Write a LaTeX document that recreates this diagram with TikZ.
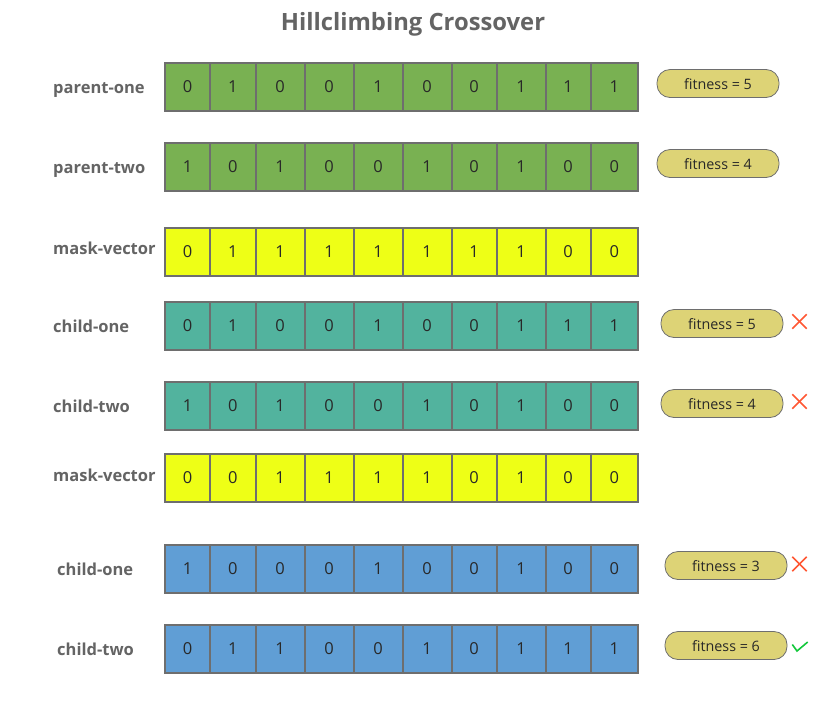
\documentclass[tikz,border=0pt]{standalone}
\usepackage{fontspec}
\setmainfont{Open Sans}
\definecolor{cgreen}{RGB}{121,177,82}
\definecolor{cyellow}{RGB}{238,255,22}
\definecolor{cteal}{RGB}{82,179,158}
\definecolor{cblue}{RGB}{96,158,213}
\definecolor{cpill}{RGB}{221,211,118}
\definecolor{cborder}{RGB}{110,110,110}
\definecolor{ctext}{RGB}{100,100,100}
\definecolor{cdigit}{RGB}{40,40,40}
\definecolor{cred}{RGB}{255,87,51}
\definecolor{ccheck}{RGB}{20,200,60}
\tikzset{
  cellbox/.style={draw=cborder, line width=2pt, minimum height=48pt, inner sep=0pt,
    text=cdigit, font=\fontsize{16.5}{19}\selectfont},
  rowlabel/.style={anchor=base west, text=ctext, font=\fontsize{16.5}{19}\selectfont\bfseries, inner sep=0pt},
  pill/.style={draw=cborder, line width=0.8pt, fill=cpill, rounded corners=13pt,
    minimum width=122pt, minimum height=28pt, inner sep=0pt, text=cdigit,
    font=\fontsize{14.3}{17}\selectfont, text depth=0pt, text height=12pt},
  markbox/.style={minimum size=15pt, inner sep=0pt},
  crossline/.style={draw=cred, line width=1.6pt},
}
\def\xs{{165,210,255.5,304.5,353.5,402.5,451.5,496.5,545.5,590.5,638}}
\newcommand\cellrow[4]{%
  \foreach \v [count=\i from 0] in {#4} {
    \pgfmathsetmacro\xa{\xs[\i]}
    \pgfmathsetmacro\xb{\xs[\i+1]}
    \pgfmathsetmacro\xc{(\xa+\xb)/2}
    \pgfmathsetmacro\w{\xb-\xa}
    \node[cellbox, fill=#3, minimum width=\w pt] (#1c\i) at (\xc,-#2) {\v};
  }
}
\begin{document}
\begin{tikzpicture}[x=1pt,y=1pt]
\useasboundingbox (0,0) rectangle (827,-705);
\fill[white] (0,0) rectangle (827,-705);
\node[text=ctext, font=\fontsize{23.8}{28}\selectfont\bfseries] (title) at (413,-24) {Hillclimbing Crossover};

\cellrow{pa}{86.5}{cgreen}{0,1,0,0,1,0,0,1,1,1}
\cellrow{pb}{166.5}{cgreen}{1,0,1,0,0,1,0,1,0,0}
\cellrow{ma}{252}{cyellow}{0,1,1,1,1,1,1,1,0,0}
\cellrow{ca}{325.5}{cteal}{0,1,0,0,1,0,0,1,1,1}
\cellrow{cb}{405.5}{cteal}{1,0,1,0,0,1,0,1,0,0}
\cellrow{mb}{477.5}{cyellow}{0,0,1,1,1,1,0,1,0,0}
\cellrow{da}{568.5}{cblue}{1,0,0,0,1,0,0,1,0,0}
\cellrow{db}{648.5}{cblue}{0,1,1,0,0,1,0,1,1,1}

\node[rowlabel] (lpa) at (53,-93) {parent-one};
\node[rowlabel] (lpb) at (53,-173) {parent-two};
\node[rowlabel] (lma) at (53,-254) {mask-vector};
\node[rowlabel] (lca) at (53,-332) {child-one};
\node[rowlabel] (lcb) at (53,-412) {child-two};
\node[rowlabel] (lmb) at (53,-481) {mask-vector};
\node[rowlabel] (lda) at (57,-575) {child-one};
\node[rowlabel] (ldb) at (57,-655) {child-two};

\node[pill] (fpa) at (718,-83.5) {fitness = 5};
\node[pill] (fpb) at (718,-163.5) {fitness = 4};
\node[pill] (fca) at (722,-323.5) {fitness = 5};
\node[pill] (fcb) at (722,-403.5) {fitness = 4};
\node[pill] (fda) at (726,-565.5) {fitness = 3};
\node[pill] (fdb) at (726,-645.5) {fitness = 6};

\node[markbox] (xca) at (799.5,-321.5) {};
\node[markbox] (xcb) at (799.5,-401.5) {};
\node[markbox] (xda) at (799.5,-564) {};
\node[markbox] (vdb) at (800,-646.5) {};
\foreach \m in {xca,xcb,xda} {
  \draw[crossline] ([xshift=0.5pt,yshift=-0.5pt]\m.north west) -- ([xshift=-0.5pt,yshift=0.5pt]\m.south east);
  \draw[crossline] ([xshift=-0.5pt,yshift=-0.5pt]\m.north east) -- ([xshift=0.5pt,yshift=0.5pt]\m.south west);
}
\draw[draw=ccheck, line width=1.6pt] ([xshift=0pt,yshift=2pt]vdb.west) -- ([xshift=-3pt,yshift=-4.5pt]vdb.center) -- ([xshift=0pt,yshift=4.5pt]vdb.east);
\end{tikzpicture}
\end{document}
